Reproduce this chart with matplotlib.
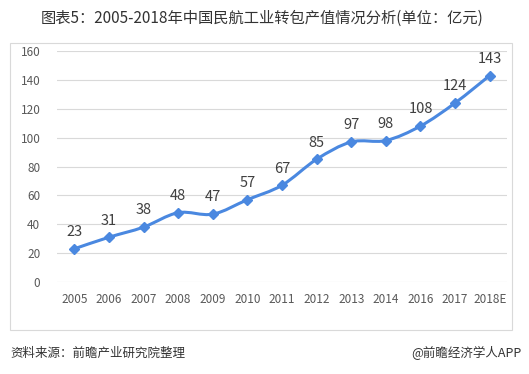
import numpy as np
import matplotlib
matplotlib.use("Agg")
import matplotlib.pyplot as plt
from matplotlib.path import Path
from matplotlib.patches import PathPatch, Rectangle

plt.rcParams['font.family'] = ['Noto Sans CJK SC', 'DejaVu Sans']

# data
years = ['2005', '2006', '2007', '2008', '2009', '2010', '2011',
         '2012', '2013', '2014', '2016', '2017', '2018E']
values = [23, 31, 38, 48, 47, 57, 67, 85, 97, 98, 108, 124, 143]
y_ticks = [0, 20, 40, 60, 80, 100, 120, 140, 160]

title = '图表5：2005-2018年中国民航工业转包产值情况分析(单位：亿元)'
source = '资料来源：前瞻产业研究院整理'
brand = '@前瞻经济学人APP'

line_color = '#4A88E0'
text_color = '#404040'
grid_color = '#D9D9D9'

fig = plt.figure(figsize=(5.29, 3.74), dpi=100)
W, H = 529, 374

# chart frame
fig.patches.append(Rectangle((10 / W, 1 - 330 / H), 502 / W, 287 / H,
                             transform=fig.transFigure, fill=False,
                             edgecolor=grid_color, linewidth=0.8))

ax = fig.add_axes([57 / W, 1 - 282 / H, 450 / W, 231 / H])
x = np.arange(len(years))

# smooth line (Catmull-Rom segments drawn as cubic Bezier)
pts = np.column_stack([x, values]).astype(float)
ext = np.vstack([pts[0], pts, pts[-1]])
verts = [tuple(pts[0])]
codes = [Path.MOVETO]
for i in range(1, len(ext) - 2):
    p0, p1, p2, p3 = ext[i - 1], ext[i], ext[i + 1], ext[i + 2]
    c1 = p1 + (p2 - p0) / 6
    c2 = p2 - (p3 - p1) / 6
    verts += [tuple(c1), tuple(c2), tuple(p2)]
    codes += [Path.CURVE4] * 3
ax.add_patch(PathPatch(Path(verts, codes), facecolor='none',
                       edgecolor=line_color, linewidth=2.2, zorder=3,
                       capstyle='round', joinstyle='round'))
ax.plot(x, values, linestyle='none', marker='D', markersize=5,
        color=line_color, zorder=4)

for xi, v in zip(x, values):
    ax.annotate(str(v), (xi, v), xytext=(0, 7), textcoords='offset points',
                ha='center', va='bottom', fontsize=10.5, color=text_color)

ax.set_xlim(-0.5, len(years) - 0.5)
ax.set_ylim(0, 160)
ax.set_yticks(y_ticks)
ax.set_xticks(x)
ax.set_xticklabels(years)
ax.grid(axis='y', color=grid_color, linewidth=0.8)
ax.set_axisbelow(True)
for s in ax.spines.values():
    s.set_visible(False)
ax.tick_params(length=0, colors='#595959', labelsize=8.5)
ax.tick_params(axis='y', pad=12)
ax.tick_params(axis='x', pad=8)

fig.text(262 / W, 1 - 18 / H, title, ha='center', va='center',
         fontsize=11, color='#333333')
fig.text(10 / W, 1 - 353 / H, source, ha='left', va='center',
         fontsize=9, style='italic', color='#333333')
fig.text(521 / W, 1 - 353 / H, brand, ha='right', va='center',
         fontsize=9, color='#333333')

fig.savefig('out.png', dpi=100)
